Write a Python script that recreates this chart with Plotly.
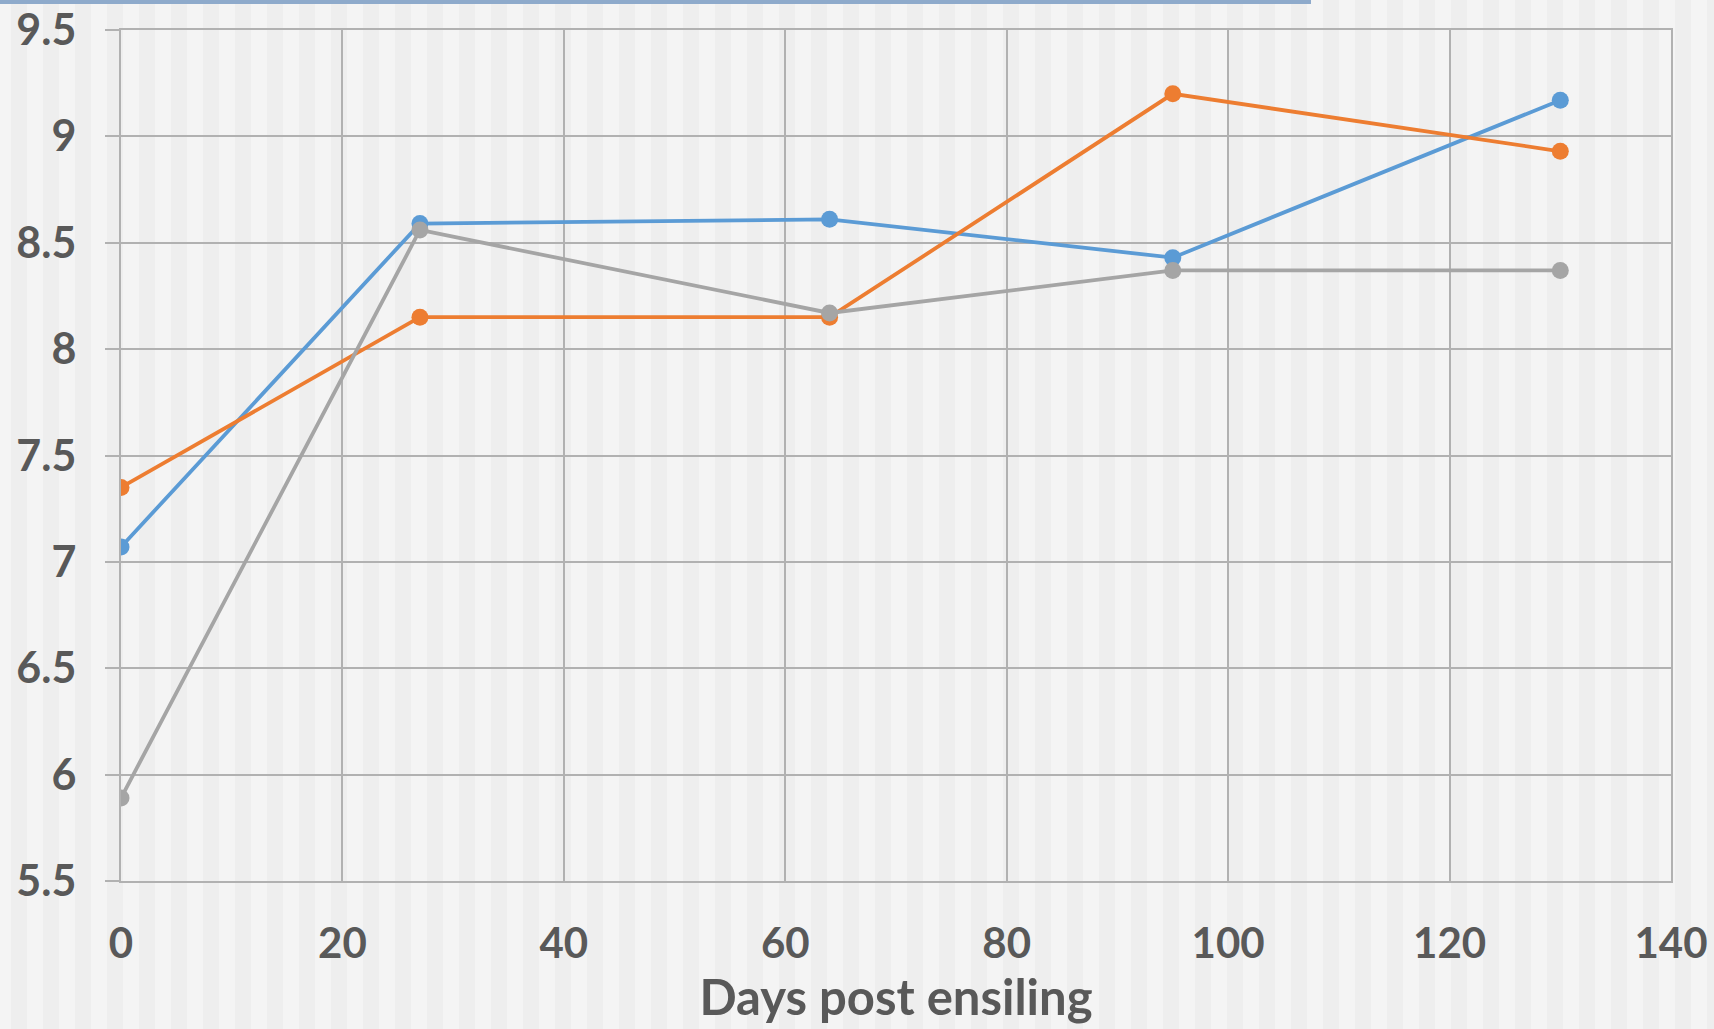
import plotly.graph_objects as go

# Days after ensiling at which the silage was sampled
days = [0, 27, 64, 95, 130]

# Measured values for the three treatments
series_blue = [7.07, 8.59, 8.61, 8.43, 9.17]
series_orange = [7.35, 8.15, 8.15, 9.20, 8.93]
series_gray = [5.89, 8.56, 8.17, 8.37, 8.37]

x_ticks = [0, 20, 40, 60, 80, 100, 120, 140]
y_ticks = [5.5, 6, 6.5, 7, 7.5, 8, 8.5, 9, 9.5]
y_tick_text = ["5.5", "6", "6.5", "7", "7.5", "8", "8.5", "9", "9.5"]

W, H = 1714, 1029
M_L, M_R, M_T, M_B = 121, 43, 30, 148
PLOT_W = W - M_L - M_R
PLOT_H = H - M_T - M_B

GRID = "#b1b1b1"
TEXT = "#595959"
FONT = "Lato, 'Open Sans', sans-serif"

fig = go.Figure()

for vals, color in [(series_blue, "#5b9bd5"),
                    (series_orange, "#ed7d31"),
                    (series_gray, "#a5a5a5")]:
    fig.add_trace(go.Scatter(
        x=days, y=vals, mode="lines+markers",
        line=dict(color=color, width=3.8),
        marker=dict(color=color, size=17),
        showlegend=False,
    ))


def px_to_paper_x(px):
    return (px - M_L) / PLOT_W


def px_to_paper_y(py):
    return (H - M_B - py) / PLOT_H


# faint vertical banding across the whole page
shapes = []
stripe_w, period, offset = 16, 32, 11
start = offset - period
while start < W:
    shapes.append(dict(
        type="rect", xref="paper", yref="paper", layer="below",
        x0=px_to_paper_x(start), x1=px_to_paper_x(start + stripe_w),
        y0=px_to_paper_y(H), y1=px_to_paper_y(0),
        fillcolor="#eeeeee", line=dict(width=0),
    ))
    start += period

# thin accent bar along the top edge
shapes.append(dict(
    type="rect", xref="paper", yref="paper", layer="above",
    x0=px_to_paper_x(0), x1=px_to_paper_x(1311),
    y0=px_to_paper_y(4), y1=px_to_paper_y(0),
    fillcolor="#8eaacb", line=dict(width=0),
))

fig.update_layout(
    width=W, height=H,
    margin=dict(l=M_L, r=M_R, t=M_T, b=M_B, autoexpand=False),
    paper_bgcolor="#f4f4f4",
    plot_bgcolor="rgba(0,0,0,0)",
    shapes=shapes,
    font=dict(family=FONT, color=TEXT, size=42, weight="bold"),
)

fig.update_xaxes(
    range=[0, 140], tickvals=x_ticks,
    showgrid=True, gridcolor=GRID, gridwidth=2,
    showline=True, linecolor=GRID, linewidth=2, mirror=True,
    zeroline=False, ticks="", automargin=False,
    ticklabelstandoff=25,
    tickfont=dict(family=FONT, size=42, color=TEXT, weight="bold"),
    title=dict(text="Days post ensiling", standoff=9,
               font=dict(family=FONT, size=49, color=TEXT, weight="bold")),
)

fig.update_yaxes(
    range=[5.5, 9.5], tickvals=y_ticks, ticktext=y_tick_text,
    showgrid=True, gridcolor=GRID, gridwidth=2,
    showline=True, linecolor=GRID, linewidth=2, mirror=True,
    zeroline=False, ticks="outside", ticklen=14, tickwidth=2, tickcolor=GRID,
    automargin=False,
    ticklabelstandoff=20,
    tickfont=dict(family=FONT, size=43, color=TEXT, weight="bold"),
)

fig.write_html("out.html")
